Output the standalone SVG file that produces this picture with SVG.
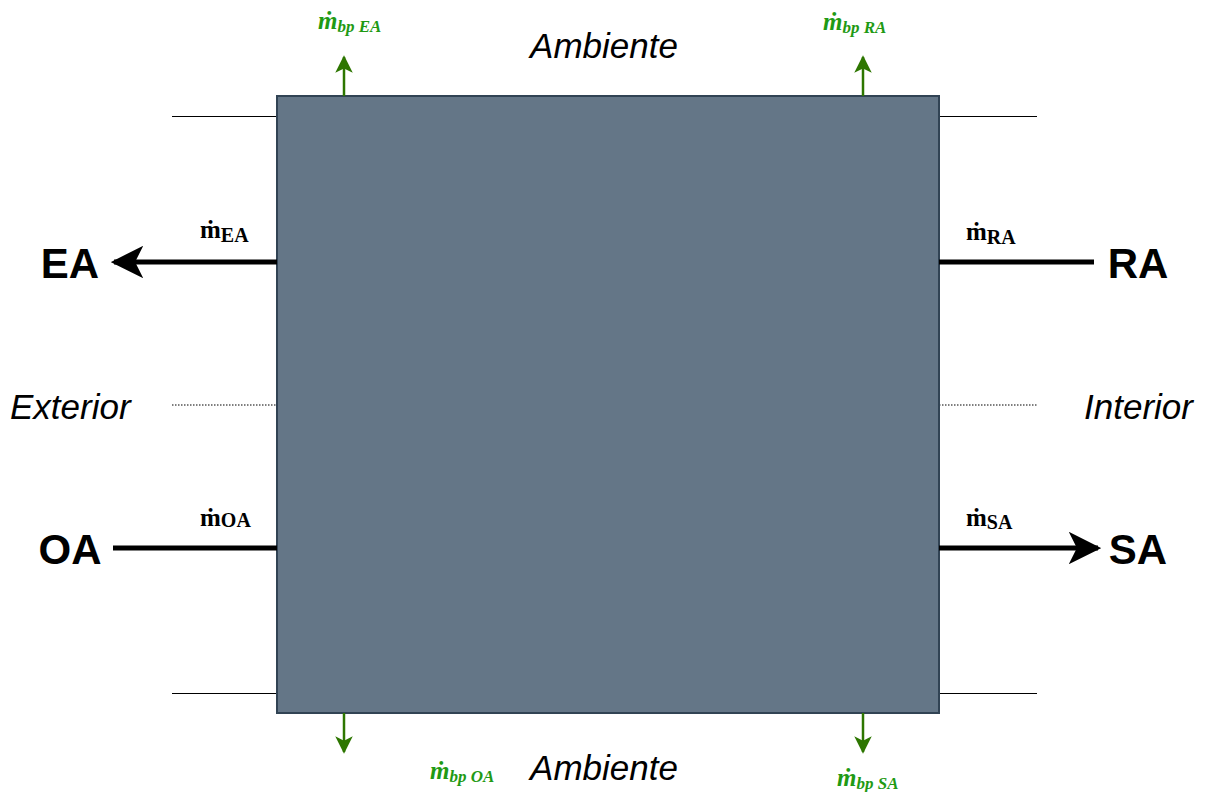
<svg xmlns="http://www.w3.org/2000/svg" width="1208" height="792" viewBox="0 0 1208 792">
  <defs>
    <marker id="bigHead" viewBox="0 0 20 20" refX="18" refY="10" markerWidth="6.5" markerHeight="6.5" markerUnits="strokeWidth" orient="auto">
      <path d="M0,0 L20,10 L0,20 L5,10 Z" fill="#000"/>
    </marker>
    <marker id="greenHead" viewBox="0 0 20 20" refX="18" refY="10" markerWidth="7" markerHeight="7" markerUnits="strokeWidth" orient="auto">
      <path d="M0,0 L20,10 L0,20 L5,10 Z" fill="#2d7600"/>
    </marker>
  </defs>
  <style>
    .box { fill: #647687; stroke: #314354; stroke-width: 2; }
    .thin { stroke: #000; stroke-width: 1; fill: none; }
    .dotted { stroke: #555; stroke-width: 1.5; stroke-dasharray: 1.5 1.5; fill: none; }
    .flow { stroke: #000; stroke-width: 5; fill: none; }
    .bypass { stroke: #2d7600; stroke-width: 2.5; fill: none; }
    .port { font-family: "Liberation Sans", Arial, sans-serif; font-weight: bold; font-size: 42px; fill: #000; text-anchor: middle; dominant-baseline: central; }
    .zone { font-family: "Liberation Sans", Arial, sans-serif; font-style: italic; font-size: 35px; fill: #000; dominant-baseline: central; }
    .mass { font-family: "Liberation Serif", "Times New Roman", serif; font-weight: bold; font-size: 25px; fill: #000; }
    .mass .sub { font-size: 20px; }
    .bp { font-family: "Liberation Serif", "Times New Roman", serif; font-weight: bold; font-style: italic; font-size: 25px; fill: #1f9a14; }
    .bp .sub { font-size: 17px; }
  </style>

  <!-- zone boundary lines -->
  <g id="boundaries">
    <line class="thin" x1="172" y1="116.5" x2="277" y2="116.5"/>
    <line class="thin" x1="939" y1="116.5" x2="1037" y2="116.5"/>
    <line class="thin" x1="172" y1="693.5" x2="277" y2="693.5"/>
    <line class="thin" x1="939" y1="693.5" x2="1037" y2="693.5"/>
    <line class="dotted" x1="172" y1="405" x2="277" y2="405"/>
    <line class="dotted" x1="939" y1="405" x2="1037" y2="405"/>
  </g>

  <!-- air handling unit -->
  <g id="unit">
    <rect class="box" x="277" y="96" width="662" height="617"/>
  </g>

  <!-- air flows -->
  <g id="connectors">
    <line class="flow" x1="277" y1="262" x2="114" y2="262" marker-end="url(#bigHead)"/>
    <line class="flow" x1="1094" y1="262" x2="939" y2="262"/>
    <line class="flow" x1="113" y1="548" x2="277" y2="548"/>
    <line class="flow" x1="939" y1="548" x2="1098" y2="548" marker-end="url(#bigHead)"/>
    <line class="bypass" x1="344" y1="96" x2="344" y2="57" marker-end="url(#greenHead)"/>
    <line class="bypass" x1="863" y1="96" x2="863" y2="57" marker-end="url(#greenHead)"/>
    <line class="bypass" x1="344" y1="713" x2="344" y2="752" marker-end="url(#greenHead)"/>
    <line class="bypass" x1="863" y1="713" x2="863" y2="752" marker-end="url(#greenHead)"/>
  </g>

  <!-- ports -->
  <g id="port-EA"><text class="port" x="70" y="263">EA</text></g>
  <g id="port-RA"><text class="port" x="1138" y="263">RA</text></g>
  <g id="port-OA"><text class="port" x="70" y="549">OA</text></g>
  <g id="port-SA"><text class="port" x="1138" y="549">SA</text></g>

  <!-- zones -->
  <g id="zone-labels">
    <text class="zone" x="604" y="45" text-anchor="middle">Ambiente</text>
    <text class="zone" x="604" y="767" text-anchor="middle">Ambiente</text>
    <text class="zone" x="10" y="406">Exterior</text>
    <text class="zone" x="1084" y="406">Interior</text>
  </g>

  <!-- mass flow labels -->
  <g id="mass-labels">
    <text class="mass" x="200" y="238">ṁ<tspan class="sub" dy="4">EA</tspan></text>
    <text class="mass" x="966" y="240">ṁ<tspan class="sub" dy="4">RA</tspan></text>
    <text class="mass" x="200" y="526">ṁ<tspan class="sub" dy="1">OA</tspan></text>
    <text class="mass" x="966" y="526">ṁ<tspan class="sub" dy="3">SA</tspan></text>
  </g>

  <!-- bypass labels -->
  <g id="bypass-labels">
    <text class="bp" x="318" y="29">ṁ<tspan class="sub" dy="3">bp EA</tspan></text>
    <text class="bp" x="823" y="30">ṁ<tspan class="sub" dy="3">bp RA</tspan></text>
    <text class="bp" x="430" y="779">ṁ<tspan class="sub" dy="3">bp OA</tspan></text>
    <text class="bp" x="837" y="786">ṁ<tspan class="sub" dy="3">bp SA</tspan></text>
  </g>
</svg>
